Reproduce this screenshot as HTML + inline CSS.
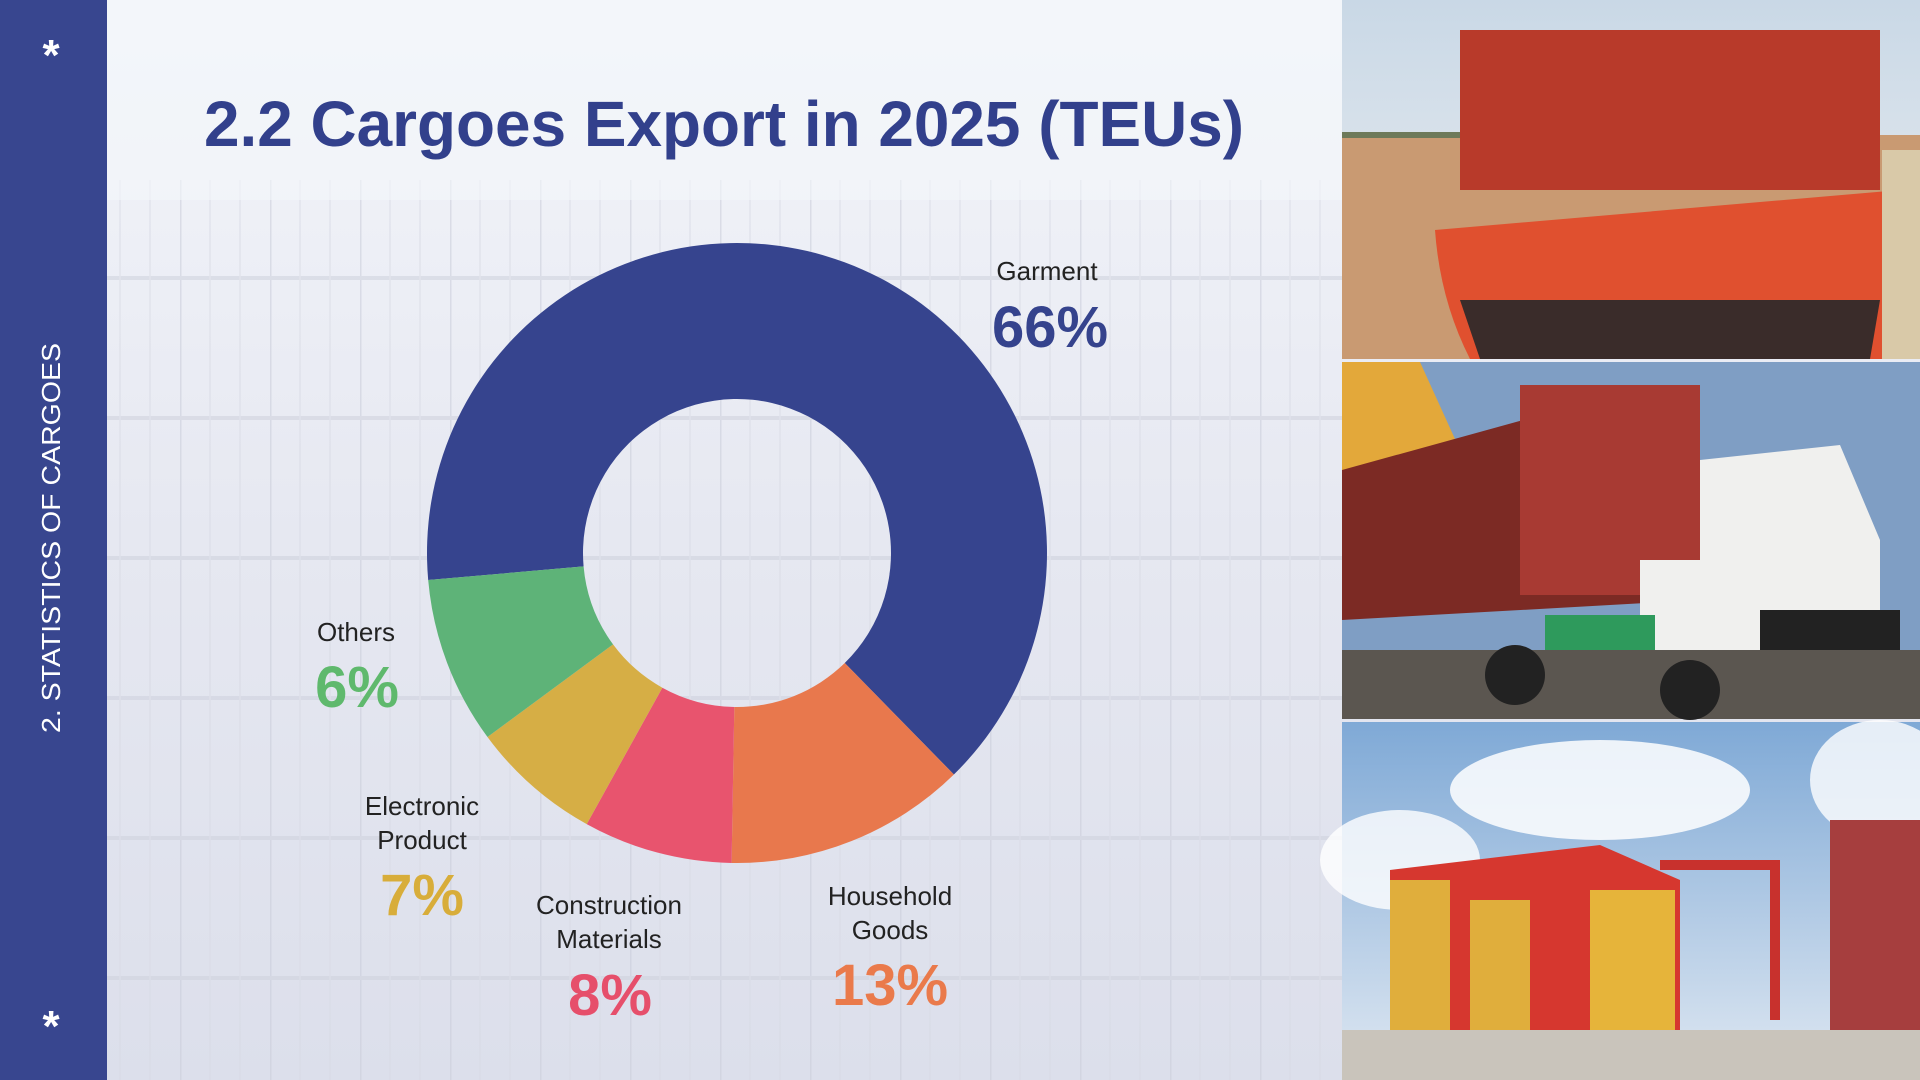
<!DOCTYPE html>
<html><head><meta charset="utf-8"><style>
html,body{margin:0;padding:0;width:1920px;height:1080px;overflow:hidden;background:#eceff7}
svg{display:block}
</style></head><body>
<svg width="1920" height="1080" viewBox="0 0 1920 1080" xmlns="http://www.w3.org/2000/svg">
<defs>
<linearGradient id="bg" x1="0" y1="0" x2="0" y2="1">
<stop offset="0" stop-color="#f3f5fa"/><stop offset="0.5" stop-color="#e6e8f1"/><stop offset="1" stop-color="#dcdfeb"/>
</linearGradient>
<pattern id="cont" width="90" height="140" patternUnits="userSpaceOnUse">
<rect width="90" height="140" fill="none"/>
<line x1="0" y1="0" x2="0" y2="140" stroke="#c9ccd9" stroke-width="3"/>
<line x1="0" y1="138" x2="90" y2="138" stroke="#cdd0dc" stroke-width="4"/>
<line x1="30" y1="0" x2="30" y2="140" stroke="#d8dae4" stroke-width="1.5"/>
<line x1="60" y1="0" x2="60" y2="140" stroke="#d8dae4" stroke-width="1.5"/>
</pattern>
<linearGradient id="sky1" x1="0" y1="0" x2="0" y2="1"><stop offset="0" stop-color="#c9d8e6"/><stop offset="1" stop-color="#eef0f2"/></linearGradient>
<linearGradient id="sky3" x1="0" y1="0" x2="0" y2="1"><stop offset="0" stop-color="#7fa9d6"/><stop offset="1" stop-color="#dfe8f2"/></linearGradient>
</defs>
<rect width="1920" height="1080" fill="url(#bg)"/>
<rect x="107" y="180" width="1235" height="900" fill="url(#cont)" opacity="0.55"/>
<rect x="107" y="0" width="1235" height="200" fill="#f4f6fa" opacity="0.6"/>

<!-- sidebar -->
<rect x="0" y="0" width="107" height="1080" fill="#38468f"/>
<text x="51" y="70" text-anchor="middle" font-family="Liberation Sans, sans-serif" font-size="44" font-weight="bold" fill="#fff">*</text>
<text x="51" y="1041" text-anchor="middle" font-family="Liberation Sans, sans-serif" font-size="44" font-weight="bold" fill="#fff">*</text>
<text transform="translate(60,538) rotate(-90)" text-anchor="middle" font-family="Liberation Sans, sans-serif" font-size="26" fill="#fff" textLength="390" lengthAdjust="spacingAndGlyphs">2. STATISTICS OF CARGOES</text>

<!-- title -->
<text x="204" y="146" font-family="Liberation Sans, sans-serif" font-size="64" font-weight="bold" fill="#32408c" textLength="1040" lengthAdjust="spacingAndGlyphs">2.2 Cargoes Export in 2025 (TEUs)</text>

<!-- donut: center 737,553 R310 r154 -->
<g transform="translate(737,553)">
<path id="s" d="" />
</g>
<g id="donut"></g>

<!-- photos -->
<rect x="1342" y="0" width="578" height="359" fill="url(#sky1)"/>
<rect x="1342" y="135" width="578" height="224" fill="#c99a72"/>
<rect x="1342" y="132" width="140" height="6" fill="#6d7a5a"/>
<rect x="1460" y="30" width="420" height="160" fill="#b83a2a"/>
<path d="M1435 230 L1900 190 L1900 359 L1470 359 Q1440 300 1435 230Z" fill="#e0502f"/>
<path d="M1460 300 L1880 300 L1870 359 L1480 359Z" fill="#3a2c2a"/>
<rect x="1882" y="150" width="38" height="209" fill="#d9c9a8"/>

<rect x="1342" y="362" width="578" height="357" fill="#7f9ec4"/>
<path d="M1342 362 L1420 362 L1460 450 L1342 560Z" fill="#e3a83a"/>
<path d="M1342 470 L1650 385 L1700 395 L1700 600 L1342 620Z" fill="#7c2a24"/>
<rect x="1520" y="385" width="180" height="210" fill="#a83a33"/>
<path d="M1700 460 L1840 445 L1880 540 L1880 650 L1640 650 L1640 560 L1700 560Z" fill="#f0f0ee"/>
<rect x="1545" y="615" width="110" height="80" fill="#2e9a5c"/>
<rect x="1760" y="610" width="140" height="70" fill="#222"/>
<rect x="1342" y="650" width="578" height="69" fill="#5b5650"/>
<circle cx="1515" cy="675" r="30" fill="#222"/><circle cx="1690" cy="690" r="30" fill="#222"/>

<rect x="1342" y="722" width="578" height="358" fill="url(#sky3)"/>
<ellipse cx="1600" cy="790" rx="150" ry="50" fill="#fff" opacity="0.85"/>
<ellipse cx="1400" cy="860" rx="80" ry="50" fill="#fff" opacity="0.8"/>
<ellipse cx="1880" cy="780" rx="70" ry="60" fill="#fff" opacity="0.8"/>
<path d="M1390 870 L1600 845 L1680 880 L1680 1040 L1390 1040Z" fill="#d6372f"/>
<rect x="1390" y="880" width="60" height="160" fill="#e0ae3c"/>
<rect x="1470" y="900" width="60" height="140" fill="#e0ae3c"/>
<rect x="1590" y="890" width="85" height="150" fill="#e6b43a"/>
<rect x="1660" y="860" width="120" height="10" fill="#c8312d"/>
<rect x="1770" y="870" width="10" height="150" fill="#c8312d"/>
<rect x="1830" y="820" width="90" height="210" fill="#a63e3e"/>
<rect x="1342" y="1030" width="578" height="50" fill="#c9c4bb"/>

<!-- labels -->
<g font-family="Liberation Sans, sans-serif" text-anchor="middle">
<text x="1047" y="280" font-size="26" fill="#222">Garment</text>
<text x="1050" y="347" font-size="58" font-weight="bold" fill="#35438d">66%</text>
<text x="356" y="641" font-size="26" fill="#222">Others</text>
<text x="357" y="707" font-size="58" font-weight="bold" fill="#5fb96d">6%</text>
<text x="422" y="815" font-size="26" fill="#222">Electronic</text>
<text x="422" y="849" font-size="26" fill="#222">Product</text>
<text x="422" y="915" font-size="58" font-weight="bold" fill="#d8ad3a">7%</text>
<text x="609" y="914" font-size="26" fill="#222">Construction</text>
<text x="609" y="948" font-size="26" fill="#222">Materials</text>
<text x="610" y="1015" font-size="58" font-weight="bold" fill="#e64f6b">8%</text>
<text x="890" y="905" font-size="26" fill="#222">Household</text>
<text x="890" y="939" font-size="26" fill="#222">Goods</text>
<text x="890" y="1005" font-size="58" font-weight="bold" fill="#ea7a4b">13%</text>
</g>
</svg>
<script>
(function(){
var cx=737,cy=553,R=310,r=154;
var segs=[[265,495.6,'#36448e'],[135.6,181,'#e8784d'],[181,209,'#e8546e'],[209,233.6,'#d6ae45'],[233.6,265,'#5eb378']];
function pt(a,rad){var t=(a-90)*Math.PI/180;return [cx+rad*Math.cos(t),cy+rad*Math.sin(t)];}
var g=document.getElementById('donut'),ns='http://www.w3.org/2000/svg';
segs.forEach(function(s){
var a0=s[0],a1=s[1],large=(a1-a0)>180?1:0;
var p1=pt(a0,R),p2=pt(a1,R),p3=pt(a1,r),p4=pt(a0,r);
var d='M'+p1+' A'+R+' '+R+' 0 '+large+' 1 '+p2+' L'+p3+' A'+r+' '+r+' 0 '+large+' 0 '+p4+'Z';
var p=document.createElementNS(ns,'path');p.setAttribute('d',d);p.setAttribute('fill',s[2]);g.appendChild(p);
});
})();
</script>
</body></html>
